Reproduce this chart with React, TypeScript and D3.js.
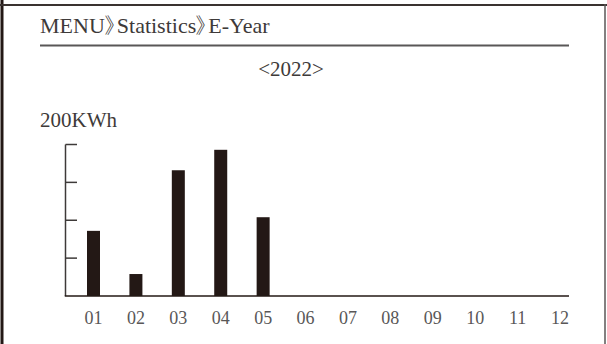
import React from "react";
import * as d3 from "d3";

const months = ["01", "02", "03", "04", "05", "06", "07", "08", "09", "10", "11", "12"];
const energy = [86, 29, 166, 193, 104, 0, 0, 0, 0, 0, 0, 0];
const yTicks = [0, 50, 100, 150, 200];
const titleParts = ["MENU", "》", "Statistics", "》", "E-Year"];
const yearText = "<2022>";
const unitText = "200KWh";

const W = 607;
const H = 344;
const FONT = "'Liberation Serif', 'Noto Serif', serif";

export default function App() {
  const x = d3.scalePoint<string>().domain(months).range([93.5, 560]);
  const y = d3.scaleLinear().domain([0, 200]).range([296, 144.5]);
  const barW = 13;
  const axisX = 65.5;

  return (
    <svg
      width={W}
      height={H}
      style={{ position: "absolute", left: 0, top: 0, background: "#fff" }}
    >
      {/* frame */}
      <line x1={2} y1={0} x2={2} y2={H} stroke="#231815" strokeWidth={3} />
      <line x1={0} y1={5} x2={W} y2={5} stroke="#3a3230" strokeWidth={2} />
      <line x1={605} y1={4} x2={605} y2={H} stroke="#5a5656" strokeWidth={1.5} />

      <text x={40} y={33} fontFamily={FONT} fontSize={22} fill="#3e3a39">
        {titleParts.map((p, i) =>
          i % 2 === 1 ? (
            <tspan key={i} dx={-1} letterSpacing={-9}>
              {p}
            </tspan>
          ) : (
            <tspan key={i}>{p}</tspan>
          )
        )}
      </text>
      <line x1={40} y1={45.5} x2={569} y2={45.5} stroke="#595757" strokeWidth={2} />

      <text x={291} y={76} textAnchor="middle" fontFamily={FONT} fontSize={21} fill="#3e3a39">
        {yearText}
      </text>

      <text x={40} y={127} fontFamily={FONT} fontSize={21} fill="#3e3a39">
        {unitText}
      </text>

      {/* y axis */}
      <line x1={axisX} y1={y(200)} x2={axisX} y2={y(0)} stroke="#3e3a39" strokeWidth={1.5} />
      {yTicks.slice(1).map((t) => (
        <line key={t} x1={axisX} y1={y(t)} x2={77} y2={y(t)} stroke="#3e3a39" strokeWidth={1.5} />
      ))}

      {/* bars */}
      {months.map((m, i) =>
        energy[i] > 0 ? (
          <rect
            key={m}
            x={(x(m) as number) - barW / 2}
            y={y(energy[i])}
            width={barW}
            height={y(0) - y(energy[i])}
            fill="#231815"
          />
        ) : null
      )}

      {/* x axis */}
      <line x1={axisX - 0.75} y1={y(0)} x2={569} y2={y(0)} stroke="#231815" strokeWidth={1.5} />
      {months.map((m) => (
        <text
          key={m}
          x={x(m) as number}
          y={324}
          textAnchor="middle"
          fontFamily={FONT}
          fontSize={18}
          fill="#595757"
        >
          {m}
        </text>
      ))}
    </svg>
  );
}
